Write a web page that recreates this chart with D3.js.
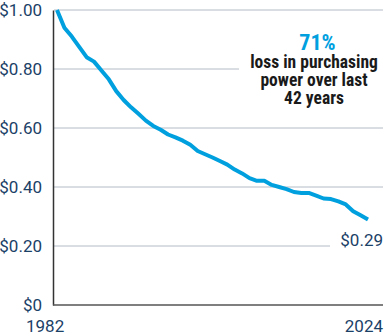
<!DOCTYPE html>
<html>
<head>
<meta charset="utf-8">
<script src="https://cdn.jsdelivr.net/npm/d3@7"></script>
<style>
    body { margin: 0; background: #fff; }
    svg { display: block; }
</style>
</head>
<body>
<div id="chart"></div>
<script>
var years = d3.range(1982, 2025);
var values = [1.00, 0.94, 0.91, 0.875, 0.84, 0.825, 0.795, 0.765, 0.725, 0.695,
    0.67, 0.648, 0.625, 0.607, 0.594, 0.578, 0.568, 0.557, 0.543, 0.522,
    0.511, 0.50, 0.488, 0.476, 0.459, 0.446, 0.43, 0.421, 0.421, 0.407,
    0.40, 0.393, 0.383, 0.38, 0.38, 0.371, 0.361, 0.359, 0.351, 0.341,
    0.318, 0.304, 0.29];
var yTicks = [0, 0.2, 0.4, 0.6, 0.8, 1.0];
var yTickLabels = ['$0', '$0.20', '$0.40', '$0.60', '$0.80', '$1.00'];
var xTickLabels = ['1982', '2024'];
var endLabel = '$0.29';
var noteHead = '71%';
var noteLines = ['loss in purchasing', 'power over last', '42 years'];

var width = 385,
    height = 336,
    blue = '#00a0df',
    navy = '#1b4167',
    gridColor = '#b3bcc7';

// grid lines stop short where the text sits
var gridEnd = { 0.2: 330, 0.8: 239 };

var x = d3.scaleLinear().domain([1982, 2024]).range([57, 368]),
    y = d3.scaleLinear().domain([0, 1]).range([305, 10]);

var svg = d3.select('#chart').append('svg')
    .attr('width', width)
    .attr('height', height);

svg.append('g').selectAll('line')
    .data(yTicks.filter(function (d) { return d > 0; }))
    .enter().append('line')
    .attr('x1', 54)
    .attr('x2', function (d) { return gridEnd[d] || 383; })
    .attr('y1', function (d) { return y(d); })
    .attr('y2', function (d) { return y(d); })
    .attr('stroke', gridColor)
    .attr('stroke-width', 1);

var yAxis = svg.append('g')
    .attr('transform', 'translate(53,0)')
    .call(d3.axisLeft(y).tickValues(yTicks).tickSize(0).tickPadding(11)
        .tickFormat(function (d, i) { return yTickLabels[i]; }));
yAxis.select('.domain').attr('stroke', '#333').attr('stroke-width', 1.5);
yAxis.selectAll('text')
    .attr('fill', navy)
    .attr('font-family', 'Roboto, sans-serif')
    .attr('font-size', 17)
    .attr('dy', '0.32em');

svg.append('line')
    .attr('x1', 53).attr('x2', 383)
    .attr('y1', y(0)).attr('y2', y(0))
    .attr('stroke', '#555')
    .attr('stroke-width', 1.5);

svg.append('g').selectAll('text')
    .data(xTickLabels)
    .enter().append('text')
    .attr('x', function (d, i) { return i === 0 ? 26 : 383; })
    .attr('y', 332)
    .attr('text-anchor', function (d, i) { return i === 0 ? 'start' : 'end'; })
    .attr('fill', navy)
    .attr('font-family', 'Roboto, sans-serif')
    .attr('font-size', 17)
    .text(function (d) { return d; });

var line = d3.line()
    .x(function (d, i) { return x(years[i]); })
    .y(function (d) { return y(d); });

svg.append('path')
    .datum(values)
    .attr('d', line)
    .attr('fill', 'none')
    .attr('stroke', blue)
    .attr('stroke-width', 4)
    .attr('stroke-linejoin', 'round');

svg.append('text')
    .attr('x', 383)
    .attr('y', 246)
    .attr('text-anchor', 'end')
    .attr('fill', navy)
    .attr('font-family', 'Roboto, sans-serif')
    .attr('font-size', 17)
    .text(endLabel);

// annotation: one text block, headline + three lines
var note = svg.append('text')
    .attr('text-anchor', 'middle')
    .attr('font-family', '"Liberation Sans Narrow", "Roboto Condensed", sans-serif')
    .attr('font-weight', 'bold');

note.append('tspan')
    .attr('x', 317.5)
    .attr('y', 50)
    .attr('fill', blue)
    .attr('font-size', 22)
    .text(noteHead);

note.selectAll('.line')
    .data(noteLines)
    .enter().append('tspan')
    .attr('class', 'line')
    .attr('x', 314)
    .attr('y', function (d, i) { return 68 + i * 18; })
    .attr('fill', '#1a1a1a')
    .attr('font-size', 17.5)
    .text(function (d) { return d; });
</script>
</body>
</html>
